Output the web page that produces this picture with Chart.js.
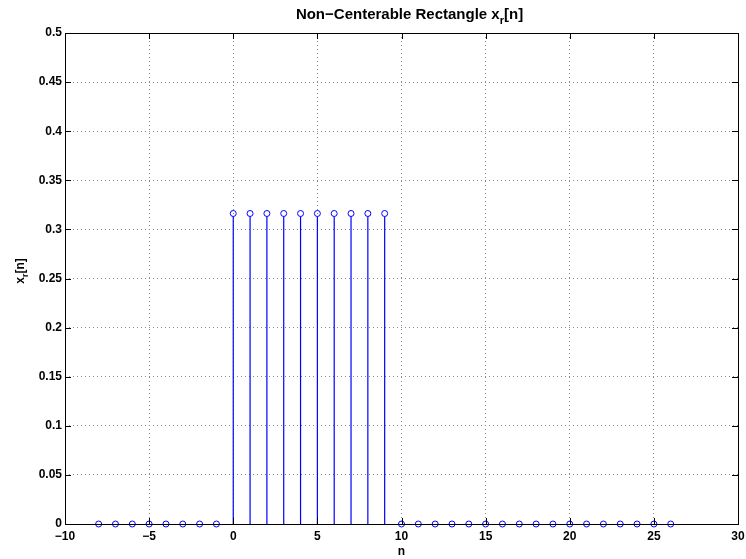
<!DOCTYPE html>
<html>
<head>
<meta charset="utf-8">
<script src="https://cdn.jsdelivr.net/npm/chart.js@4.4.1/dist/chart.umd.min.js"></script>
<style>
  html, body { margin: 0; padding: 0; background: #fff; }
  #wrap { width: 746px; height: 559px; }
</style>
</head>
<body>
<div id="wrap"><canvas id="c" width="746" height="559"></canvas></div>
<script>
'use strict';

// ---- data ----
const N_VALUES = [-8,-7,-6,-5,-4,-3,-2,-1,0,1,2,3,4,5,6,7,8,9,10,11,12,13,14,15,16,17,18,19,20,21,22,23,24,25,26];
const X_VALUES = [0,0,0,0,0,0,0,0,
  0.3162,0.3162,0.3162,0.3162,0.3162,0.3162,0.3162,0.3162,0.3162,0.3162,
  0,0,0,0,0,0,0,0,0,0,0,0,0,0,0,0,0];
const X_TICKS = [-10, -5, 0, 5, 10, 15, 20, 25, 30];
const Y_TICKS = [0, 0.05, 0.1, 0.15, 0.2, 0.25, 0.3, 0.35, 0.4, 0.45, 0.5];

const TITLE_MAIN = 'Non\u2212Centerable Rectangle x';
const TITLE_SUB = 'r';
const TITLE_END = '[n]';
const X_LABEL = 'n';

const FONT = "'Liberation Sans', Arial, Helvetica, sans-serif";
const BLUE = '#0000ff';

// ---- helpers ----
function fmtTick(v) {
  const s = String(Number(v.toFixed(2)));
  return s.replace('-', '\u2212');
}

// draw text with a subscript in the middle, centred on x
function drawSubText(ctx, parts, x, y, size) {
  const subSize = Math.round(size * 0.75);
  ctx.font = `bold ${size}px ${FONT}`;
  const w1 = ctx.measureText(parts[0]).width;
  const w3 = ctx.measureText(parts[2]).width;
  ctx.font = `bold ${subSize}px ${FONT}`;
  const w2 = ctx.measureText(parts[1]).width;
  let cx = x - (w1 + w2 + w3) / 2;
  ctx.textAlign = 'left';
  ctx.textBaseline = 'alphabetic';
  ctx.font = `bold ${size}px ${FONT}`;
  ctx.fillText(parts[0], cx, y);
  cx += w1;
  ctx.font = `bold ${subSize}px ${FONT}`;
  ctx.fillText(parts[1], cx, y + size * 0.35);
  cx += w2;
  ctx.font = `bold ${size}px ${FONT}`;
  ctx.fillText(parts[2], cx, y);
}

// stems, frame, inner ticks and labels
const stemPlugin = {
  id: 'stems',
  beforeDatasetsDraw(chart) {
    const { ctx, scales: { x, y } } = chart;
    const y0 = y.getPixelForValue(0);
    ctx.save();
    ctx.setLineDash([]);
    ctx.strokeStyle = BLUE;
    ctx.lineWidth = 1.2;
    N_VALUES.forEach((n, i) => {
      if (X_VALUES[i] === 0) return;
      const px = x.getPixelForValue(n);
      ctx.beginPath();
      ctx.moveTo(px, y0);
      ctx.lineTo(px, y.getPixelForValue(X_VALUES[i]) + 3);
      ctx.stroke();
    });
    ctx.restore();
  },
  afterDraw(chart) {
    const { ctx, chartArea: a, scales: { x, y } } = chart;
    ctx.save();
    // frame
    ctx.strokeStyle = '#000';
    ctx.lineWidth = 1;
    ctx.strokeRect(Math.round(a.left) + 0.5, Math.round(a.top) + 0.5,
      Math.round(a.right - a.left), Math.round(a.bottom - a.top));
    // inward ticks
    ctx.beginPath();
    X_TICKS.forEach(t => {
      const px = Math.round(x.getPixelForValue(t)) + 0.5;
      ctx.moveTo(px, a.bottom); ctx.lineTo(px, a.bottom - 6);
      ctx.moveTo(px, a.top); ctx.lineTo(px, a.top + 6);
    });
    Y_TICKS.forEach(t => {
      const py = Math.round(y.getPixelForValue(t)) + 0.5;
      ctx.moveTo(a.left, py); ctx.lineTo(a.left + 6, py);
      ctx.moveTo(a.right, py); ctx.lineTo(a.right - 6, py);
    });
    ctx.stroke();

    // labels
    ctx.fillStyle = '#000';
    const cx = (a.left + a.right) / 2;
    drawSubText(ctx, [TITLE_MAIN, TITLE_SUB, TITLE_END], cx + 8, 19, 15);

    ctx.font = `bold 12px ${FONT}`;
    ctx.textAlign = 'center';
    ctx.textBaseline = 'alphabetic';
    ctx.fillText(X_LABEL, cx, 555);

    ctx.translate(24, 271);
    ctx.rotate(-Math.PI / 2);
    drawSubText(ctx, ['x', 'r', '[n]'], 0, 0, 12);
    ctx.restore();
  }
};

new Chart(document.getElementById('c'), {
  type: 'scatter',
  data: {
    datasets: [{
      data: N_VALUES.map((n, i) => ({ x: n, y: X_VALUES[i] })),
      showLine: false,
      pointStyle: 'circle',
      pointRadius: 3,
      pointHoverRadius: 3,
      pointBorderWidth: 1,
      pointBorderColor: BLUE,
      pointBackgroundColor: 'rgba(0,0,0,0)',
      clip: false
    }]
  },
  options: {
    responsive: false,
    animation: false,
    devicePixelRatio: 1,
    layout: { padding: { left: 0, right: 0, top: 33, bottom: 0 } },
    plugins: {
      legend: { display: false },
      title: { display: false },
      tooltip: { enabled: false }
    },
    scales: {
      x: {
        type: 'linear',
        min: -10, max: 30,
        afterBuildTicks(scale) { scale.ticks = X_TICKS.map(v => ({ value: v })); },
        afterFit(scale) {
          scale.height = 35;
          scale.paddingRight = 8;
        },
        ticks: {
          color: '#000',
          font: { family: FONT, size: 12, weight: 'bold' },
          padding: 5,
          maxRotation: 0,
          callback: v => fmtTick(v)
        },
        grid: { color: '#888', lineWidth: 1, drawTicks: false },
        border: { display: false, dash: [1, 3] }
      },
      y: {
        type: 'linear',
        min: 0, max: 0.5,
        afterBuildTicks(scale) { scale.ticks = Y_TICKS.map(v => ({ value: v })); },
        afterFit(scale) { scale.width = 65; },
        ticks: {
          color: '#000',
          font: { family: FONT, size: 12, weight: 'bold' },
          padding: 3,
          callback: v => fmtTick(v)
        },
        grid: { color: '#888', lineWidth: 1, drawTicks: false },
        border: { display: false, dash: [1, 3] }
      }
    }
  },
  plugins: [stemPlugin]
});
</script>
</body>
</html>
